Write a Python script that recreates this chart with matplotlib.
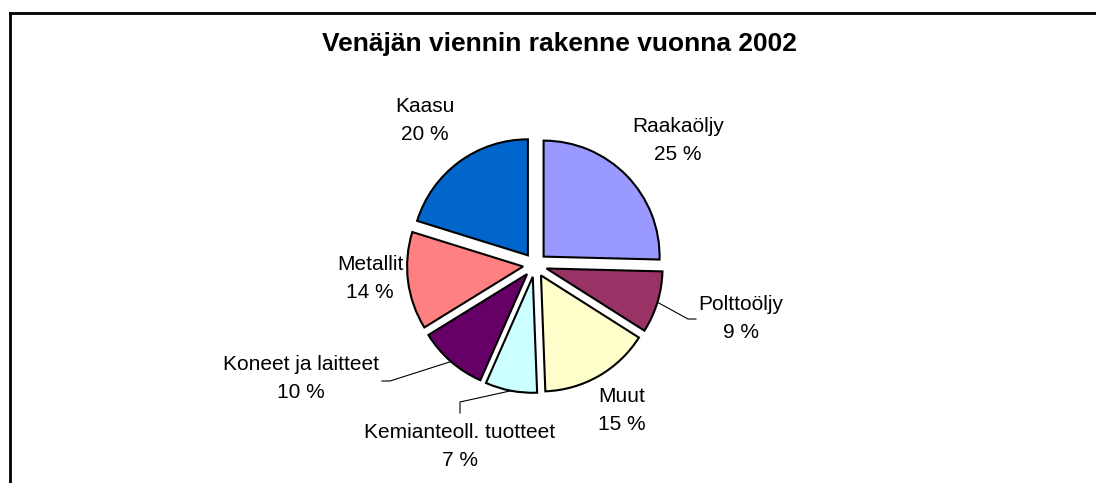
import matplotlib
matplotlib.use("Agg")
import numpy as np
import matplotlib.pyplot as plt
from matplotlib.lines import Line2D

# data
categories = ['Raakaöljy', 'Polttoöljy', 'Muut', 'Kemianteoll. tuotteet',
              'Koneet ja laitteet', 'Metallit', 'Kaasu']
shares = [25.4, 8.6, 15.4, 7.2, 9.6, 13.6, 20.2]
colors = ['#9999FF', '#993366', '#FFFFCC', '#CCFFFF', '#660066', '#FF8080', '#0066CC']

W, H = 1096, 483

# label text centres and leader lines (pixel coords, y down)
label_pos = [(678, 141), (741, 318), (622, 411), (460, 447), (301, 379), (370, 278), (425, 120)]
leaders = {1: [(688, 319), (696, 319)],
           3: [(460, 402), (460, 413)],
           4: [(390, 381), (382, 381)]}

plt.rcParams['font.family'] = ['Liberation Sans', 'DejaVu Sans']

fig = plt.figure(figsize=(W / 100, H / 100), dpi=100)
ax = fig.add_axes([0, 0, 1, 1])

cx, cy, r, gap = 535, 265, 116, 12
wedges, _ = ax.pie(shares, colors=colors, startangle=90, counterclock=False,
                   center=(cx, H - cy), radius=r, explode=[gap] * len(shares),
                   wedgeprops=dict(edgecolor='black', linewidth=1.5))

ax.set_xlim(0, W)
ax.set_ylim(0, H)
ax.set_aspect('equal')
ax.axis('off')

for i, (name, val) in enumerate(zip(categories, shares)):
    x, y = label_pos[i]
    ax.text(x, H - y, '%s\n%.0f %%' % (name, val), ha='center', va='center',
            fontsize=15, linespacing=1.6)
    if i in leaders:
        # leader starts on the arc of the wedge, at its middle angle
        w = wedges[i]
        tm = np.deg2rad((w.theta1 + w.theta2) / 2)
        sx = w.center[0] + w.r * np.cos(tm)
        sy = w.center[1] + w.r * np.sin(tm)
        pts = [(sx, sy)] + [(px, H - py) for px, py in leaders[i]]
        ax.plot([p[0] for p in pts], [p[1] for p in pts], color='black', linewidth=0.8)

ax.text(559, H - 44, 'Venäjän viennin rakenne vuonna 2002', ha='center', va='center',
        fontsize=19, fontweight='bold')

# chart area border (top and left visible)
fig.add_artist(Line2D([10 / W, 1], [1 - 13 / H, 1 - 13 / H], color='black', linewidth=2))
fig.add_artist(Line2D([10 / W, 10 / W], [0, 1 - 13 / H], color='black', linewidth=2))

fig.savefig('out.png', dpi=100, facecolor='white')
